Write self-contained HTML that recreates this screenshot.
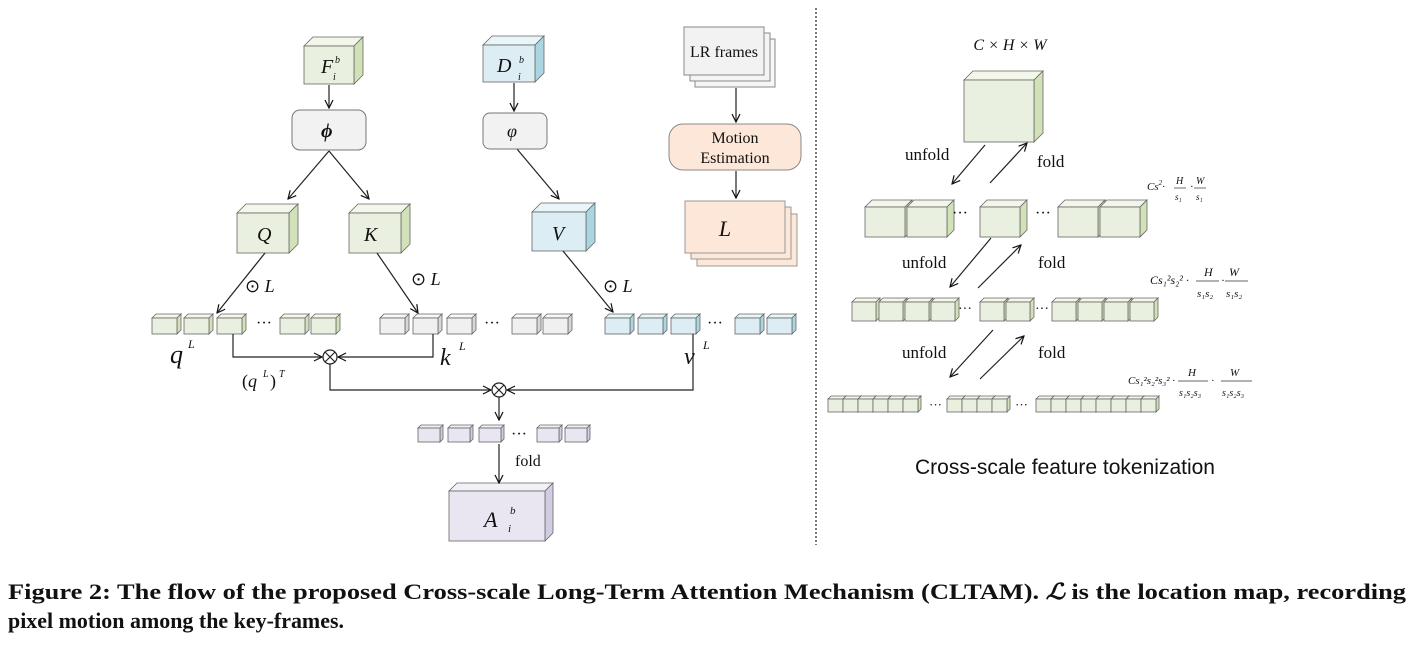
<!DOCTYPE html>
<html><head><meta charset="utf-8"><style>
html,body{margin:0;padding:0;background:#fff;}
svg{display:block;}
.t{font-family:"Liberation Serif",serif;fill:#111;}
.i{font-style:italic;}
</style></head><body>
<svg id="s" width="1414" height="647" viewBox="0 0 1414 647" xmlns="http://www.w3.org/2000/svg">
<defs><marker id="a" markerWidth="10" markerHeight="10" refX="9" refY="5" orient="auto" markerUnits="userSpaceOnUse"><path d="M1,1 L9,5 L1,9" fill="none" stroke="#111" stroke-width="1.2"/></marker></defs>
<g id="cubes"></g>
<g stroke="#222" stroke-width="1.2" fill="none">
<line x1="329" y1="85" x2="329" y2="108" marker-end="url(#a)"/>
<line x1="329" y1="151" x2="288" y2="199" marker-end="url(#a)"/>
<line x1="329" y1="151" x2="369" y2="199" marker-end="url(#a)"/>
<line x1="514" y1="83" x2="514" y2="111" marker-end="url(#a)"/>
<line x1="517" y1="149" x2="559" y2="199" marker-end="url(#a)"/>
<line x1="736" y1="88" x2="736" y2="122" marker-end="url(#a)"/>
<line x1="736" y1="171" x2="736" y2="198" marker-end="url(#a)"/>
<line x1="265" y1="253" x2="217" y2="313" marker-end="url(#a)"/>
<line x1="377" y1="253" x2="418" y2="313" marker-end="url(#a)"/>
<line x1="563" y1="251" x2="613" y2="312" marker-end="url(#a)"/>
<polyline points="233,334 233,357 322,357" marker-end="url(#a)"/>
<polyline points="433,334 433,357 338,357" marker-end="url(#a)"/>
<polyline points="330,364 330,390 491,390" marker-end="url(#a)"/>
<polyline points="693,334 693,390 507,390" marker-end="url(#a)"/>
<line x1="499" y1="397" x2="499" y2="420" marker-end="url(#a)"/>
<line x1="499" y1="444" x2="499" y2="483" marker-end="url(#a)"/>
<circle cx="330" cy="357" r="7"/><path d="M325,352 L335,362 M335,352 L325,362"/>
<circle cx="499" cy="390" r="7"/><path d="M494,385 L504,395 M504,385 L494,395"/>
<line x1="816" y1="8" x2="816" y2="545" stroke-dasharray="2,2"/>
<line x1="985" y1="145" x2="952" y2="184" marker-end="url(#a)"/>
<line x1="990" y1="183" x2="1027" y2="143" marker-end="url(#a)"/>
<line x1="991" y1="238" x2="950" y2="287" marker-end="url(#a)"/>
<line x1="978" y1="288" x2="1021" y2="245" marker-end="url(#a)"/>
<line x1="993" y1="330" x2="950" y2="377" marker-end="url(#a)"/>
<line x1="980" y1="379" x2="1024" y2="336" marker-end="url(#a)"/>
</g>
<rect x="292" y="110" width="74" height="40" rx="8" fill="#f2f2f2" stroke="#777"/>
<rect x="483" y="113" width="64" height="36" rx="7" fill="#f2f2f2" stroke="#777"/>
<rect x="695" y="39" width="80" height="48" fill="#f6f6f6" stroke="#888"/>
<rect x="690" y="33" width="80" height="48" fill="#f4f4f4" stroke="#888"/>
<rect x="684" y="27" width="80" height="48" fill="#f2f2f2" stroke="#888"/>
<rect x="669" y="124" width="132" height="46" rx="14" fill="#fde7d8" stroke="#888"/>
<rect x="697" y="214" width="100" height="52" fill="#fde7d8" stroke="#999"/>
<rect x="691" y="207" width="100" height="52" fill="#fde7d8" stroke="#999"/>
<rect x="685" y="201" width="100" height="52" fill="#fde7d8" stroke="#999"/>
<g class="t">
<text x="321" y="73" font-size="20" class="i">F</text><text x="333" y="80" font-size="10" class="i">i</text><text x="335" y="63" font-size="10" class="i">b</text>
<text x="497" y="72" font-size="20" class="i">D</text><text x="518" y="80" font-size="10" class="i">i</text><text x="519" y="63" font-size="10" class="i">b</text>
<text x="321" y="137" font-size="20" class="i" font-weight="bold">ϕ</text>
<text x="507" y="137" font-size="18" class="i">φ</text>
<text x="724" y="57" font-size="16" text-anchor="middle">LR frames</text>
<text x="735" y="143" font-size="16" text-anchor="middle">Motion</text>
<text x="735" y="163" font-size="16" text-anchor="middle">Estimation</text>
<text x="725" y="236" font-size="22" class="i" text-anchor="middle">L</text>
<text x="257" y="241" font-size="20" class="i">Q</text>
<text x="364" y="241" font-size="20" class="i">K</text>
<text x="552" y="240" font-size="20" class="i">V</text>
<text x="245" y="292" font-size="18">⊙ <tspan class="i">L</tspan></text>
<text x="411" y="285" font-size="18">⊙ <tspan class="i">L</tspan></text>
<text x="603" y="292" font-size="18">⊙ <tspan class="i">L</tspan></text>
<text x="256" y="328" font-size="16">···</text>
<text x="484" y="328" font-size="16">···</text>
<text x="707" y="328" font-size="16">···</text>
<text x="511" y="439" font-size="16">···</text>
<text x="170" y="363" font-size="26" class="i">q</text><text x="188" y="348" font-size="12" class="i">L</text>
<text x="440" y="365" font-size="24" class="i">k</text><text x="459" y="350" font-size="12" class="i">L</text>
<text x="684" y="364" font-size="24" class="i">v</text><text x="703" y="349" font-size="12" class="i">L</text>
<text x="242" y="387" font-size="18">(<tspan class="i">q</tspan></text><text x="263" y="377" font-size="10" class="i">L</text><text x="270" y="387" font-size="18">)</text><text x="279" y="377" font-size="10" class="i">T</text>
<text x="515" y="466" font-size="16">fold</text>
<text x="484" y="527" font-size="22" class="i">A</text><text x="508" y="532" font-size="11" class="i">i</text><text x="510" y="514" font-size="11" class="i">b</text>
<text x="1010" y="50" font-size="16" class="i" text-anchor="middle">C × H × W</text>
<text x="905" y="160" font-size="17">unfold</text>
<text x="1037" y="167" font-size="17">fold</text>
<text x="902" y="268" font-size="17">unfold</text>
<text x="1038" y="268" font-size="17">fold</text>
<text x="902" y="358" font-size="17">unfold</text>
<text x="1038" y="358" font-size="17">fold</text>
<text x="952" y="218" font-size="16">···</text><text x="1035" y="218" font-size="16">···</text>
<text x="958" y="313" font-size="14">···</text><text x="1035" y="313" font-size="14">···</text>
<text x="929" y="409" font-size="13">···</text><text x="1015" y="409" font-size="13">···</text>
<text x="1147" y="190" font-size="11" class="i">Cs<tspan font-size="7" dy="-5">2</tspan><tspan dy="5">·</tspan></text>
<text x="1176" y="184" font-size="10" class="i">H</text><line x1="1174" y1="188" x2="1186" y2="188" stroke="#333" stroke-width="0.7"/><text x="1175" y="200" font-size="9" class="i">s₁</text>
<text x="1190" y="190" font-size="11">·</text>
<text x="1196" y="184" font-size="10" class="i">W</text><line x1="1194" y1="188" x2="1206" y2="188" stroke="#333" stroke-width="0.7"/><text x="1196" y="200" font-size="9" class="i">s₁</text>
<text x="1150" y="284" font-size="12" class="i">Cs₁²s₂² ·</text>
<text x="1204" y="276" font-size="12" class="i">H</text><line x1="1196" y1="281" x2="1219" y2="281" stroke="#333" stroke-width="0.7"/><text x="1197" y="297" font-size="11" class="i">s₁s₂</text>
<text x="1221" y="284" font-size="12">·</text>
<text x="1229" y="276" font-size="12" class="i">W</text><line x1="1225" y1="281" x2="1248" y2="281" stroke="#333" stroke-width="0.7"/><text x="1226" y="297" font-size="11" class="i">s₁s₂</text>
<text x="1128" y="384" font-size="11" class="i">Cs₁²s₂²s₃² ·</text>
<text x="1188" y="376" font-size="11" class="i">H</text><line x1="1178" y1="381" x2="1208" y2="381" stroke="#333" stroke-width="0.7"/><text x="1179" y="396" font-size="10" class="i">s₁s₂s₃</text>
<text x="1211" y="384" font-size="11">·</text>
<text x="1230" y="376" font-size="11" class="i">W</text><line x1="1221" y1="381" x2="1252" y2="381" stroke="#333" stroke-width="0.7"/><text x="1222" y="396" font-size="10" class="i">s₁s₂s₃</text>
<text x="1065" y="474" font-size="21" font-family="Liberation Sans, sans-serif" text-anchor="middle">Cross-scale feature tokenization</text>
<text x="8" y="599" font-size="22" font-weight="bold" textLength="1398" lengthAdjust="spacingAndGlyphs">Figure 2: The flow of the proposed Cross-scale Long-Term Attention Mechanism (CLTAM). <tspan font-style="italic">ℒ</tspan> is the location map, recording</text>
<text x="8" y="628" font-size="22" font-weight="bold" textLength="336" lengthAdjust="spacingAndGlyphs">pixel motion among the key-frames.</text>
</g>
</svg>
<script>
var g=document.getElementById('cubes'),NS='http://www.w3.org/2000/svg';
var C={g:['#e9f0df','#f2f7ea','#d2e2b8'],b:['#dcedf3','#eaf5f9','#acd5e2'],w:['#f0f0f0','#f8f8f8','#d8d8d8'],p:['#e9e6f1','#f3f1f8','#d3cbe2']};
function cube(x,y,w,h,d,c){var k=C[c];
 function p(pts,f){var e=document.createElementNS(NS,'polygon');e.setAttribute('points',pts);e.setAttribute('fill',f);e.setAttribute('stroke','#666');e.setAttribute('stroke-width','0.8');g.appendChild(e);}
 var dy=d;p([x,y,x+d,y-dy,x+w+d,y-dy,x+w,y].join(' '),k[1]);
 p([x+w,y,x+w+d,y-dy,x+w+d,y+h-dy,x+w,y+h].join(' '),k[2]);
 var r=document.createElementNS(NS,'rect');r.setAttribute('x',x);r.setAttribute('y',y);r.setAttribute('width',w);r.setAttribute('height',h);r.setAttribute('fill',k[0]);r.setAttribute('stroke','#666');r.setAttribute('stroke-width','0.8');g.appendChild(r);}
cube(304,46,50,38,9,'g');cube(483,45,52,37,9,'b');
cube(237,213,52,40,9,'g');cube(349,213,52,40,9,'g');cube(532,212,54,39,9,'b');
[152,184,217,280,311].forEach(function(x){cube(x,318,25,16,4,'g')});
[380,413,447,512,543].forEach(function(x){cube(x,318,25,16,4,'w')});
[605,638,671,735,767].forEach(function(x){cube(x,318,25,16,4,'b')});
[418,448,479,537,565].forEach(function(x){cube(x,428,22,14,3,'p')});
cube(449,491,96,50,8,'p');
cube(964,80,70,62,9,'g');
[865,907,980,1058,1100].forEach(function(x){cube(x,207,40,30,7,'g')});
[852,879,905,931,980,1006,1052,1078,1104,1130].forEach(function(x){cube(x,302,24,19,4,'g')});
[828,843,858,873,888,903,947,962,977,992,1036,1051,1066,1081,1096,1111,1126,1141].forEach(function(x){cube(x,399,15,13,3,'g')});
</script>
</body></html>
